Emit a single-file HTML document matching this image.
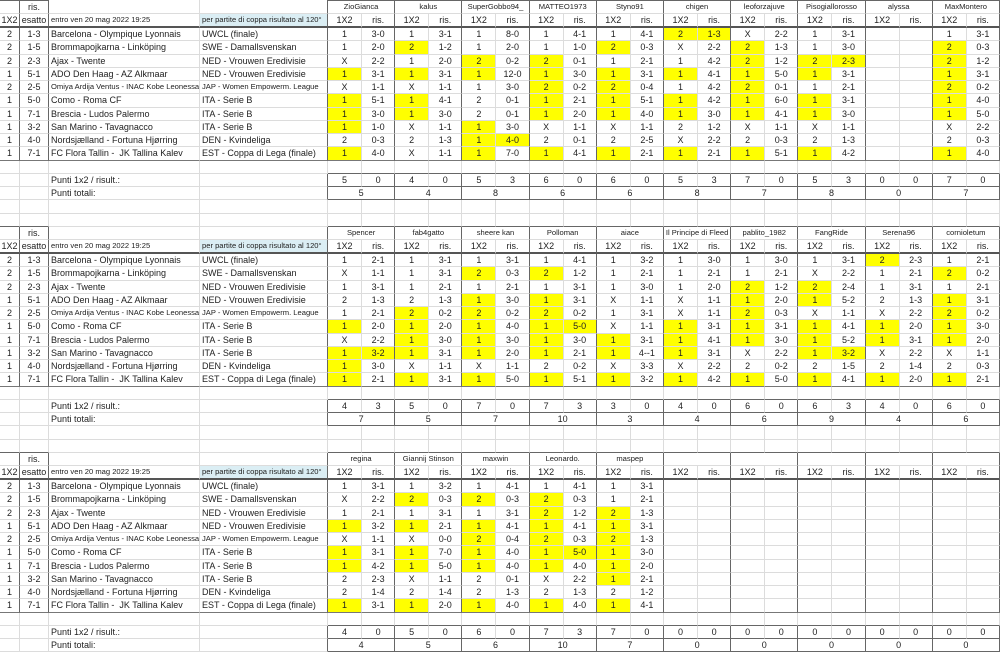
<!DOCTYPE html>
<html><head><meta charset="utf-8">
<style>
html,body{margin:0;padding:0;background:#fff}
body{width:1000px;height:650px;overflow:hidden}
table{border-collapse:separate;border-spacing:0;table-layout:fixed;width:1000px;font-family:"Liberation Sans",Arial,sans-serif;color:#222}
tr{height:13.265px}
td{padding:0;border-right:1px solid #dcdcdc;border-bottom:1px solid #dcdcdc;text-align:center;font-size:9px;line-height:12px;white-space:nowrap;overflow:hidden}
td.l{text-align:left;padding-left:2px}
td.s{font-size:7.6px}
td.n{font-size:7.6px}
td.bl{background:#dbeef4}
td.y{background:#ffff00}
.blk td:nth-child(1),.blk td:nth-child(2){border-right:1px solid #666}
.h1 td:nth-child(2n+4),.d td:nth-child(2n+4){border-right:1px solid #666}
.h0 td:nth-child(n+4){border-right:1px solid #666}
.top td:nth-child(1),.top td:nth-child(2),.top td:nth-child(n+5){border-top:1px solid #666}
.pre td:nth-child(1),.pre td:nth-child(2),.pre td:nth-child(n+5){border-bottom:1px solid #666}
.h1 td{border-bottom:2px solid #555}
.dl td{border-bottom:1px solid #777}
.pre2 td:nth-child(n+5){border-bottom:1px solid #666}
.p1 td:nth-child(n+5){border-bottom:1px solid #666}
.p1 td:nth-child(2n+4){border-right:1px solid #666}
.p2 td:nth-child(n+4){border-right:1px solid #666}
.p2 td:nth-child(n+5){border-bottom:1px solid #666}
</style></head><body>
<table>
<colgroup><col style="width:20px"><col style="width:29px"><col style="width:151px"><col style="width:128px">
<col style="width:34px"><col style="width:33.2px"><col style="width:34px"><col style="width:33.2px"><col style="width:34px"><col style="width:33.2px"><col style="width:34px"><col style="width:33.2px"><col style="width:34px"><col style="width:33.2px"><col style="width:34px"><col style="width:33.2px"><col style="width:34px"><col style="width:33.2px"><col style="width:34px"><col style="width:33.2px"><col style="width:34px"><col style="width:33.2px"><col style="width:34px"><col style="width:33.2px"></colgroup>

<!-- BLOCK 1 -->
<tr class="blk h0 top"><td></td><td>ris.</td><td></td><td></td><td colspan="2" class="n">ZioGianca</td><td colspan="2" class="n">kalus</td><td colspan="2" class="n">SuperGobbo94_</td><td colspan="2" class="n">MATTEO1973</td><td colspan="2" class="n">Styno91</td><td colspan="2" class="n">chigen</td><td colspan="2" class="n">leoforzajuve</td><td colspan="2" class="n">Pisogiallorosso</td><td colspan="2" class="n">alyssa</td><td colspan="2" class="n">MaxMontero</td></tr>
<tr class="blk h1"><td>1X2</td><td>esatto</td><td class="l s">entro ven 20 mag 2022 19:25</td><td class="l s bl">per partite di coppa risultato al 120°</td><td>1X2</td><td>ris.</td><td>1X2</td><td>ris.</td><td>1X2</td><td>ris.</td><td>1X2</td><td>ris.</td><td>1X2</td><td>ris.</td><td>1X2</td><td>ris.</td><td>1X2</td><td>ris.</td><td>1X2</td><td>ris.</td><td>1X2</td><td>ris.</td><td>1X2</td><td>ris.</td></tr>
<tr class="blk d"><td>2</td><td>1-3</td><td class="l">Barcelona - Olympique Lyonnais</td><td class="l">UWCL (finale)</td><td>1</td><td>3-0</td><td>1</td><td>3-1</td><td>1</td><td>8-0</td><td>1</td><td>4-1</td><td>1</td><td>4-1</td><td class="y">2</td><td class="y">1-3</td><td>X</td><td>2-2</td><td>1</td><td>3-1</td><td></td><td></td><td>1</td><td>3-1</td></tr>
<tr class="blk d"><td>2</td><td>1-5</td><td class="l">Brommapojkarna - Linköping</td><td class="l">SWE - Damallsvenskan</td><td>1</td><td>2-0</td><td class="y">2</td><td>1-2</td><td>1</td><td>2-0</td><td>1</td><td>1-0</td><td class="y">2</td><td>0-3</td><td>X</td><td>2-2</td><td class="y">2</td><td>1-3</td><td>1</td><td>3-0</td><td></td><td></td><td class="y">2</td><td>0-3</td></tr>
<tr class="blk d"><td>2</td><td>2-3</td><td class="l">Ajax - Twente</td><td class="l">NED - Vrouwen Eredivisie</td><td>X</td><td>2-2</td><td>1</td><td>2-0</td><td class="y">2</td><td>0-2</td><td class="y">2</td><td>0-1</td><td>1</td><td>2-1</td><td>1</td><td>4-2</td><td class="y">2</td><td>1-2</td><td class="y">2</td><td class="y">2-3</td><td></td><td></td><td class="y">2</td><td>1-2</td></tr>
<tr class="blk d"><td>1</td><td>5-1</td><td class="l">ADO Den Haag - AZ Alkmaar</td><td class="l">NED - Vrouwen Eredivisie</td><td class="y">1</td><td>3-1</td><td class="y">1</td><td>3-1</td><td class="y">1</td><td>12-0</td><td class="y">1</td><td>3-0</td><td class="y">1</td><td>3-1</td><td class="y">1</td><td>4-1</td><td class="y">1</td><td>5-0</td><td class="y">1</td><td>3-1</td><td></td><td></td><td class="y">1</td><td>3-1</td></tr>
<tr class="blk d"><td>2</td><td>2-5</td><td class="l s">Omiya Ardija Ventus - INAC Kobe Leonessa</td><td class="l s">JAP - Women Empowerm. League</td><td>X</td><td>1-1</td><td>X</td><td>1-1</td><td>1</td><td>3-0</td><td class="y">2</td><td>0-2</td><td class="y">2</td><td>0-4</td><td>1</td><td>4-2</td><td class="y">2</td><td>0-1</td><td>1</td><td>2-1</td><td></td><td></td><td class="y">2</td><td>0-2</td></tr>
<tr class="blk d"><td>1</td><td>5-0</td><td class="l">Como - Roma CF</td><td class="l">ITA - Serie B</td><td class="y">1</td><td>5-1</td><td class="y">1</td><td>4-1</td><td>2</td><td>0-1</td><td class="y">1</td><td>2-1</td><td class="y">1</td><td>5-1</td><td class="y">1</td><td>4-2</td><td class="y">1</td><td>6-0</td><td class="y">1</td><td>3-1</td><td></td><td></td><td class="y">1</td><td>4-0</td></tr>
<tr class="blk d"><td>1</td><td>7-1</td><td class="l">Brescia - Ludos Palermo</td><td class="l">ITA - Serie B</td><td class="y">1</td><td>3-0</td><td class="y">1</td><td>3-0</td><td>2</td><td>0-1</td><td class="y">1</td><td>2-0</td><td class="y">1</td><td>4-0</td><td class="y">1</td><td>3-0</td><td class="y">1</td><td>4-1</td><td class="y">1</td><td>3-0</td><td></td><td></td><td class="y">1</td><td>5-0</td></tr>
<tr class="blk d"><td>1</td><td>3-2</td><td class="l">San Marino - Tavagnacco</td><td class="l">ITA - Serie B</td><td class="y">1</td><td>1-0</td><td>X</td><td>1-1</td><td class="y">1</td><td>3-0</td><td>X</td><td>1-1</td><td>X</td><td>1-1</td><td>2</td><td>1-2</td><td>X</td><td>1-1</td><td>X</td><td>1-1</td><td></td><td></td><td>X</td><td>2-2</td></tr>
<tr class="blk d"><td>1</td><td>4-0</td><td class="l">Nordsjælland - Fortuna Hjørring</td><td class="l">DEN - Kvindeliga</td><td>2</td><td>0-3</td><td>2</td><td>1-3</td><td class="y">1</td><td class="y">4-0</td><td>2</td><td>0-1</td><td>2</td><td>2-5</td><td>X</td><td>2-2</td><td>2</td><td>0-3</td><td>2</td><td>1-3</td><td></td><td></td><td>2</td><td>0-3</td></tr>
<tr class="blk d dl"><td>1</td><td>7-1</td><td class="l">FC Flora Tallin -&nbsp; JK Tallina Kalev</td><td class="l">EST - Coppa di Lega (finale)</td><td class="y">1</td><td>4-0</td><td>X</td><td>1-1</td><td class="y">1</td><td>7-0</td><td class="y">1</td><td>4-1</td><td class="y">1</td><td>2-1</td><td class="y">1</td><td>2-1</td><td class="y">1</td><td>5-1</td><td class="y">1</td><td>4-2</td><td></td><td></td><td class="y">1</td><td>4-0</td></tr>
<tr class="pre2"><td></td><td></td><td></td><td></td><td></td><td></td><td></td><td></td><td></td><td></td><td></td><td></td><td></td><td></td><td></td><td></td><td></td><td></td><td></td><td></td><td></td><td></td><td></td><td></td></tr>
<tr class="p1"><td></td><td></td><td class="l">Punti 1x2 / risult.:</td><td></td><td>5</td><td>0</td><td>4</td><td>0</td><td>5</td><td>3</td><td>6</td><td>0</td><td>6</td><td>0</td><td>5</td><td>3</td><td>7</td><td>0</td><td>5</td><td>3</td><td>0</td><td>0</td><td>7</td><td>0</td></tr>
<tr class="p2"><td></td><td></td><td class="l">Punti totali:</td><td></td><td colspan="2">5</td><td colspan="2">4</td><td colspan="2">8</td><td colspan="2">6</td><td colspan="2">6</td><td colspan="2">8</td><td colspan="2">7</td><td colspan="2">8</td><td colspan="2">0</td><td colspan="2">7</td></tr>
<tr><td></td><td></td><td></td><td></td><td></td><td></td><td></td><td></td><td></td><td></td><td></td><td></td><td></td><td></td><td></td><td></td><td></td><td></td><td></td><td></td><td></td><td></td><td></td><td></td></tr>
<tr class="pre"><td></td><td></td><td></td><td></td><td></td><td></td><td></td><td></td><td></td><td></td><td></td><td></td><td></td><td></td><td></td><td></td><td></td><td></td><td></td><td></td><td></td><td></td><td></td><td></td></tr>

<!-- BLOCK 2 -->
<tr class="blk h0"><td></td><td>ris.</td><td></td><td></td><td colspan="2" class="n">Spencer</td><td colspan="2" class="n">fab4gatto</td><td colspan="2" class="n">sheere kan</td><td colspan="2" class="n">Polloman</td><td colspan="2" class="n">aiace</td><td colspan="2" class="n">Il Principe di Fleed</td><td colspan="2" class="n">pablito_1982</td><td colspan="2" class="n">FangRide</td><td colspan="2" class="n">Serena96</td><td colspan="2" class="n">cornioletum</td></tr>
<tr class="blk h1"><td>1X2</td><td>esatto</td><td class="l s">entro ven 20 mag 2022 19:25</td><td class="l s bl">per partite di coppa risultato al 120°</td><td>1X2</td><td>ris.</td><td>1X2</td><td>ris.</td><td>1X2</td><td>ris.</td><td>1X2</td><td>ris.</td><td>1X2</td><td>ris.</td><td>1X2</td><td>ris.</td><td>1X2</td><td>ris.</td><td>1X2</td><td>ris.</td><td>1X2</td><td>ris.</td><td>1X2</td><td>ris.</td></tr>
<tr class="blk d"><td>2</td><td>1-3</td><td class="l">Barcelona - Olympique Lyonnais</td><td class="l">UWCL (finale)</td><td>1</td><td>2-1</td><td>1</td><td>3-1</td><td>1</td><td>3-1</td><td>1</td><td>4-1</td><td>1</td><td>3-2</td><td>1</td><td>3-0</td><td>1</td><td>3-0</td><td>1</td><td>3-1</td><td class="y">2</td><td>2-3</td><td>1</td><td>2-1</td></tr>
<tr class="blk d"><td>2</td><td>1-5</td><td class="l">Brommapojkarna - Linköping</td><td class="l">SWE - Damallsvenskan</td><td>X</td><td>1-1</td><td>1</td><td>3-1</td><td class="y">2</td><td>0-3</td><td class="y">2</td><td>1-2</td><td>1</td><td>2-1</td><td>1</td><td>2-1</td><td>1</td><td>2-1</td><td>X</td><td>2-2</td><td>1</td><td>2-1</td><td class="y">2</td><td>0-2</td></tr>
<tr class="blk d"><td>2</td><td>2-3</td><td class="l">Ajax - Twente</td><td class="l">NED - Vrouwen Eredivisie</td><td>1</td><td>3-1</td><td>1</td><td>2-1</td><td>1</td><td>2-1</td><td>1</td><td>3-1</td><td>1</td><td>3-0</td><td>1</td><td>2-0</td><td class="y">2</td><td>1-2</td><td class="y">2</td><td>2-4</td><td>1</td><td>3-1</td><td>1</td><td>2-1</td></tr>
<tr class="blk d"><td>1</td><td>5-1</td><td class="l">ADO Den Haag - AZ Alkmaar</td><td class="l">NED - Vrouwen Eredivisie</td><td>2</td><td>1-3</td><td>2</td><td>1-3</td><td class="y">1</td><td>3-0</td><td class="y">1</td><td>3-1</td><td>X</td><td>1-1</td><td>X</td><td>1-1</td><td class="y">1</td><td>2-0</td><td class="y">1</td><td>5-2</td><td>2</td><td>1-3</td><td class="y">1</td><td>3-1</td></tr>
<tr class="blk d"><td>2</td><td>2-5</td><td class="l s">Omiya Ardija Ventus - INAC Kobe Leonessa</td><td class="l s">JAP - Women Empowerm. League</td><td>1</td><td>2-1</td><td class="y">2</td><td>0-2</td><td class="y">2</td><td>0-2</td><td class="y">2</td><td>0-2</td><td>1</td><td>3-1</td><td>X</td><td>1-1</td><td class="y">2</td><td>0-3</td><td>X</td><td>1-1</td><td>X</td><td>2-2</td><td class="y">2</td><td>0-2</td></tr>
<tr class="blk d"><td>1</td><td>5-0</td><td class="l">Como - Roma CF</td><td class="l">ITA - Serie B</td><td class="y">1</td><td>2-0</td><td class="y">1</td><td>2-0</td><td class="y">1</td><td>4-0</td><td class="y">1</td><td class="y">5-0</td><td>X</td><td>1-1</td><td class="y">1</td><td>3-1</td><td class="y">1</td><td>3-1</td><td class="y">1</td><td>4-1</td><td class="y">1</td><td>2-0</td><td class="y">1</td><td>3-0</td></tr>
<tr class="blk d"><td>1</td><td>7-1</td><td class="l">Brescia - Ludos Palermo</td><td class="l">ITA - Serie B</td><td>X</td><td>2-2</td><td class="y">1</td><td>3-0</td><td class="y">1</td><td>3-0</td><td class="y">1</td><td>3-0</td><td class="y">1</td><td>3-1</td><td class="y">1</td><td>4-1</td><td class="y">1</td><td>3-0</td><td class="y">1</td><td>5-2</td><td class="y">1</td><td>3-1</td><td class="y">1</td><td>2-0</td></tr>
<tr class="blk d"><td>1</td><td>3-2</td><td class="l">San Marino - Tavagnacco</td><td class="l">ITA - Serie B</td><td class="y">1</td><td class="y">3-2</td><td class="y">1</td><td>3-1</td><td class="y">1</td><td>2-0</td><td class="y">1</td><td>2-1</td><td class="y">1</td><td>4--1</td><td class="y">1</td><td>3-1</td><td>X</td><td>2-2</td><td class="y">1</td><td class="y">3-2</td><td>X</td><td>2-2</td><td>X</td><td>1-1</td></tr>
<tr class="blk d"><td>1</td><td>4-0</td><td class="l">Nordsjælland - Fortuna Hjørring</td><td class="l">DEN - Kvindeliga</td><td class="y">1</td><td>3-0</td><td>X</td><td>1-1</td><td>X</td><td>1-1</td><td>2</td><td>0-2</td><td>X</td><td>3-3</td><td>X</td><td>2-2</td><td>2</td><td>0-2</td><td>2</td><td>1-5</td><td>2</td><td>1-4</td><td>2</td><td>0-3</td></tr>
<tr class="blk d dl"><td>1</td><td>7-1</td><td class="l">FC Flora Tallin -&nbsp; JK Tallina Kalev</td><td class="l">EST - Coppa di Lega (finale)</td><td class="y">1</td><td>2-1</td><td class="y">1</td><td>3-1</td><td class="y">1</td><td>5-0</td><td class="y">1</td><td>5-1</td><td class="y">1</td><td>3-2</td><td class="y">1</td><td>4-2</td><td class="y">1</td><td>5-0</td><td class="y">1</td><td>4-1</td><td class="y">1</td><td>2-0</td><td class="y">1</td><td>2-1</td></tr>
<tr class="pre2"><td></td><td></td><td></td><td></td><td></td><td></td><td></td><td></td><td></td><td></td><td></td><td></td><td></td><td></td><td></td><td></td><td></td><td></td><td></td><td></td><td></td><td></td><td></td><td></td></tr>
<tr class="p1"><td></td><td></td><td class="l">Punti 1x2 / risult.:</td><td></td><td>4</td><td>3</td><td>5</td><td>0</td><td>7</td><td>0</td><td>7</td><td>3</td><td>3</td><td>0</td><td>4</td><td>0</td><td>6</td><td>0</td><td>6</td><td>3</td><td>4</td><td>0</td><td>6</td><td>0</td></tr>
<tr class="p2"><td></td><td></td><td class="l">Punti totali:</td><td></td><td colspan="2">7</td><td colspan="2">5</td><td colspan="2">7</td><td colspan="2">10</td><td colspan="2">3</td><td colspan="2">4</td><td colspan="2">6</td><td colspan="2">9</td><td colspan="2">4</td><td colspan="2">6</td></tr>
<tr><td></td><td></td><td></td><td></td><td></td><td></td><td></td><td></td><td></td><td></td><td></td><td></td><td></td><td></td><td></td><td></td><td></td><td></td><td></td><td></td><td></td><td></td><td></td><td></td></tr>
<tr class="pre"><td></td><td></td><td></td><td></td><td></td><td></td><td></td><td></td><td></td><td></td><td></td><td></td><td></td><td></td><td></td><td></td><td></td><td></td><td></td><td></td><td></td><td></td><td></td><td></td></tr>

<!-- BLOCK 3 -->
<tr class="blk h0"><td></td><td>ris.</td><td></td><td></td><td colspan="2" class="n">regina</td><td colspan="2" class="n">Giannij Stinson</td><td colspan="2" class="n">maxwin</td><td colspan="2" class="n">Leonardo.</td><td colspan="2" class="n">maspep</td><td colspan="2"></td><td colspan="2"></td><td colspan="2"></td><td colspan="2"></td><td colspan="2"></td></tr>
<tr class="blk h1"><td>1X2</td><td>esatto</td><td class="l s">entro ven 20 mag 2022 19:25</td><td class="l s bl">per partite di coppa risultato al 120°</td><td>1X2</td><td>ris.</td><td>1X2</td><td>ris.</td><td>1X2</td><td>ris.</td><td>1X2</td><td>ris.</td><td>1X2</td><td>ris.</td><td>1X2</td><td>ris.</td><td>1X2</td><td>ris.</td><td>1X2</td><td>ris.</td><td>1X2</td><td>ris.</td><td>1X2</td><td>ris.</td></tr>
<tr class="blk d"><td>2</td><td>1-3</td><td class="l">Barcelona - Olympique Lyonnais</td><td class="l">UWCL (finale)</td><td>1</td><td>3-1</td><td>1</td><td>3-2</td><td>1</td><td>4-1</td><td>1</td><td>4-1</td><td>1</td><td>3-1</td><td></td><td></td><td></td><td></td><td></td><td></td><td></td><td></td><td></td><td></td></tr>
<tr class="blk d"><td>2</td><td>1-5</td><td class="l">Brommapojkarna - Linköping</td><td class="l">SWE - Damallsvenskan</td><td>X</td><td>2-2</td><td class="y">2</td><td>0-3</td><td class="y">2</td><td>0-3</td><td class="y">2</td><td>0-3</td><td>1</td><td>2-1</td><td></td><td></td><td></td><td></td><td></td><td></td><td></td><td></td><td></td><td></td></tr>
<tr class="blk d"><td>2</td><td>2-3</td><td class="l">Ajax - Twente</td><td class="l">NED - Vrouwen Eredivisie</td><td>1</td><td>2-1</td><td>1</td><td>3-1</td><td>1</td><td>3-1</td><td class="y">2</td><td>1-2</td><td class="y">2</td><td>1-3</td><td></td><td></td><td></td><td></td><td></td><td></td><td></td><td></td><td></td><td></td></tr>
<tr class="blk d"><td>1</td><td>5-1</td><td class="l">ADO Den Haag - AZ Alkmaar</td><td class="l">NED - Vrouwen Eredivisie</td><td class="y">1</td><td>3-2</td><td class="y">1</td><td>2-1</td><td class="y">1</td><td>4-1</td><td class="y">1</td><td>4-1</td><td class="y">1</td><td>3-1</td><td></td><td></td><td></td><td></td><td></td><td></td><td></td><td></td><td></td><td></td></tr>
<tr class="blk d"><td>2</td><td>2-5</td><td class="l s">Omiya Ardija Ventus - INAC Kobe Leonessa</td><td class="l s">JAP - Women Empowerm. League</td><td>X</td><td>1-1</td><td>X</td><td>0-0</td><td class="y">2</td><td>0-4</td><td class="y">2</td><td>0-3</td><td class="y">2</td><td>1-3</td><td></td><td></td><td></td><td></td><td></td><td></td><td></td><td></td><td></td><td></td></tr>
<tr class="blk d"><td>1</td><td>5-0</td><td class="l">Como - Roma CF</td><td class="l">ITA - Serie B</td><td class="y">1</td><td>3-1</td><td class="y">1</td><td>7-0</td><td class="y">1</td><td>4-0</td><td class="y">1</td><td class="y">5-0</td><td class="y">1</td><td>3-0</td><td></td><td></td><td></td><td></td><td></td><td></td><td></td><td></td><td></td><td></td></tr>
<tr class="blk d"><td>1</td><td>7-1</td><td class="l">Brescia - Ludos Palermo</td><td class="l">ITA - Serie B</td><td class="y">1</td><td>4-2</td><td class="y">1</td><td>5-0</td><td class="y">1</td><td>4-0</td><td class="y">1</td><td>4-0</td><td class="y">1</td><td>2-0</td><td></td><td></td><td></td><td></td><td></td><td></td><td></td><td></td><td></td><td></td></tr>
<tr class="blk d"><td>1</td><td>3-2</td><td class="l">San Marino - Tavagnacco</td><td class="l">ITA - Serie B</td><td>2</td><td>2-3</td><td>X</td><td>1-1</td><td>2</td><td>0-1</td><td>X</td><td>2-2</td><td class="y">1</td><td>2-1</td><td></td><td></td><td></td><td></td><td></td><td></td><td></td><td></td><td></td><td></td></tr>
<tr class="blk d"><td>1</td><td>4-0</td><td class="l">Nordsjælland - Fortuna Hjørring</td><td class="l">DEN - Kvindeliga</td><td>2</td><td>1-4</td><td>2</td><td>1-4</td><td>2</td><td>1-3</td><td>2</td><td>1-3</td><td>2</td><td>1-2</td><td></td><td></td><td></td><td></td><td></td><td></td><td></td><td></td><td></td><td></td></tr>
<tr class="blk d dl"><td>1</td><td>7-1</td><td class="l">FC Flora Tallin -&nbsp; JK Tallina Kalev</td><td class="l">EST - Coppa di Lega (finale)</td><td class="y">1</td><td>3-1</td><td class="y">1</td><td>2-0</td><td class="y">1</td><td>4-0</td><td class="y">1</td><td>4-0</td><td class="y">1</td><td>4-1</td><td></td><td></td><td></td><td></td><td></td><td></td><td></td><td></td><td></td><td></td></tr>
<tr class="pre2"><td></td><td></td><td></td><td></td><td></td><td></td><td></td><td></td><td></td><td></td><td></td><td></td><td></td><td></td><td></td><td></td><td></td><td></td><td></td><td></td><td></td><td></td><td></td><td></td></tr>
<tr class="p1"><td></td><td></td><td class="l">Punti 1x2 / risult.:</td><td></td><td>4</td><td>0</td><td>5</td><td>0</td><td>6</td><td>0</td><td>7</td><td>3</td><td>7</td><td>0</td><td>0</td><td>0</td><td>0</td><td>0</td><td>0</td><td>0</td><td>0</td><td>0</td><td>0</td><td>0</td></tr>
<tr class="p2"><td></td><td></td><td class="l">Punti totali:</td><td></td><td colspan="2">4</td><td colspan="2">5</td><td colspan="2">6</td><td colspan="2">10</td><td colspan="2">7</td><td colspan="2">0</td><td colspan="2">0</td><td colspan="2">0</td><td colspan="2">0</td><td colspan="2">0</td></tr>
</table>
</body></html>
